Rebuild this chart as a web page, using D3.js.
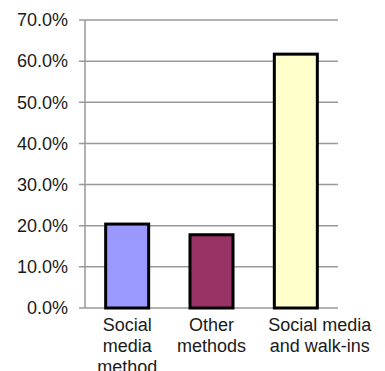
<!DOCTYPE html>
<html><head><meta charset="utf-8">
<script src="https://cdn.jsdelivr.net/npm/d3@7"></script>
<style>body{margin:0;background:#fff}svg{display:block}</style>
</head><body>
<svg id="c" width="385" height="371"></svg>
<script>
const categories = ["Social media method", "Other methods", "Social media and walk-ins"];
const labelLines = [["Social","media","method"],["Other","methods"],["Social media","and  walk-ins"]];
const labelShift = [0, 0, 24];
const values = [0.204, 0.178, 0.617];
const yTicks = [0, 0.1, 0.2, 0.3, 0.4, 0.5, 0.6, 0.7];
const colors = ["#9999FF", "#993366", "#FFFFCC"];

(function(){
const svg = d3.select("#c");
const mLeft = 85, mRight = 338, mTop = 20, mBottom = 308;
const x = d3.scaleBand().domain(categories).range([mLeft, mRight]).paddingInner(0.49).paddingOuter(0.245);
const y = d3.scaleLinear().domain([0, 0.7]).range([mBottom, mTop]);
const font = "Liberation Sans, Arial, sans-serif";

// gridlines
svg.append("g").selectAll("line").data(yTicks).join("line")
  .attr("x1", mLeft - 6).attr("x2", mRight)
  .attr("y1", d => y(d)).attr("y2", d => y(d))
  .attr("stroke", "#999").attr("stroke-width", 1.5);

// y axis line
svg.append("line").attr("x1", mLeft).attr("x2", mLeft).attr("y1", mTop).attr("y2", mBottom)
  .attr("stroke", "#999").attr("stroke-width", 1.5);

// y labels
const yAxis = d3.axisLeft(y).tickValues(yTicks).tickFormat(d3.format(".1%")).tickSize(0).tickPadding(17);
const ga = svg.append("g").attr("transform", `translate(${mLeft},0)`).call(yAxis);
ga.select(".domain").remove();
ga.selectAll("text").attr("font-family", font).attr("font-size", 18).attr("fill", "#1a1a1a");

// bars
svg.append("g").selectAll("rect").data(categories).join("rect")
  .attr("x", d => x(d)).attr("width", x.bandwidth())
  .attr("y", (d, i) => y(values[i])).attr("height", (d, i) => y(0) - y(values[i]))
  .attr("fill", (d, i) => colors[i]).attr("stroke", "#000").attr("stroke-width", 3);

// x labels
const xl = svg.append("g").selectAll("text").data(categories).join("text")
  .attr("font-family", font).attr("font-size", 18).attr("fill", "#1a1a1a")
  .attr("text-anchor", "middle");
xl.each(function(d, i) {
  const t = d3.select(this);
  labelLines[i].forEach((ln, j) => {
    t.append("tspan").attr("x", x(d) + x.bandwidth() / 2 + labelShift[i])
      .attr("y", 331 + j * 21).text(ln);
  });
});
})();
</script>
</body></html>
